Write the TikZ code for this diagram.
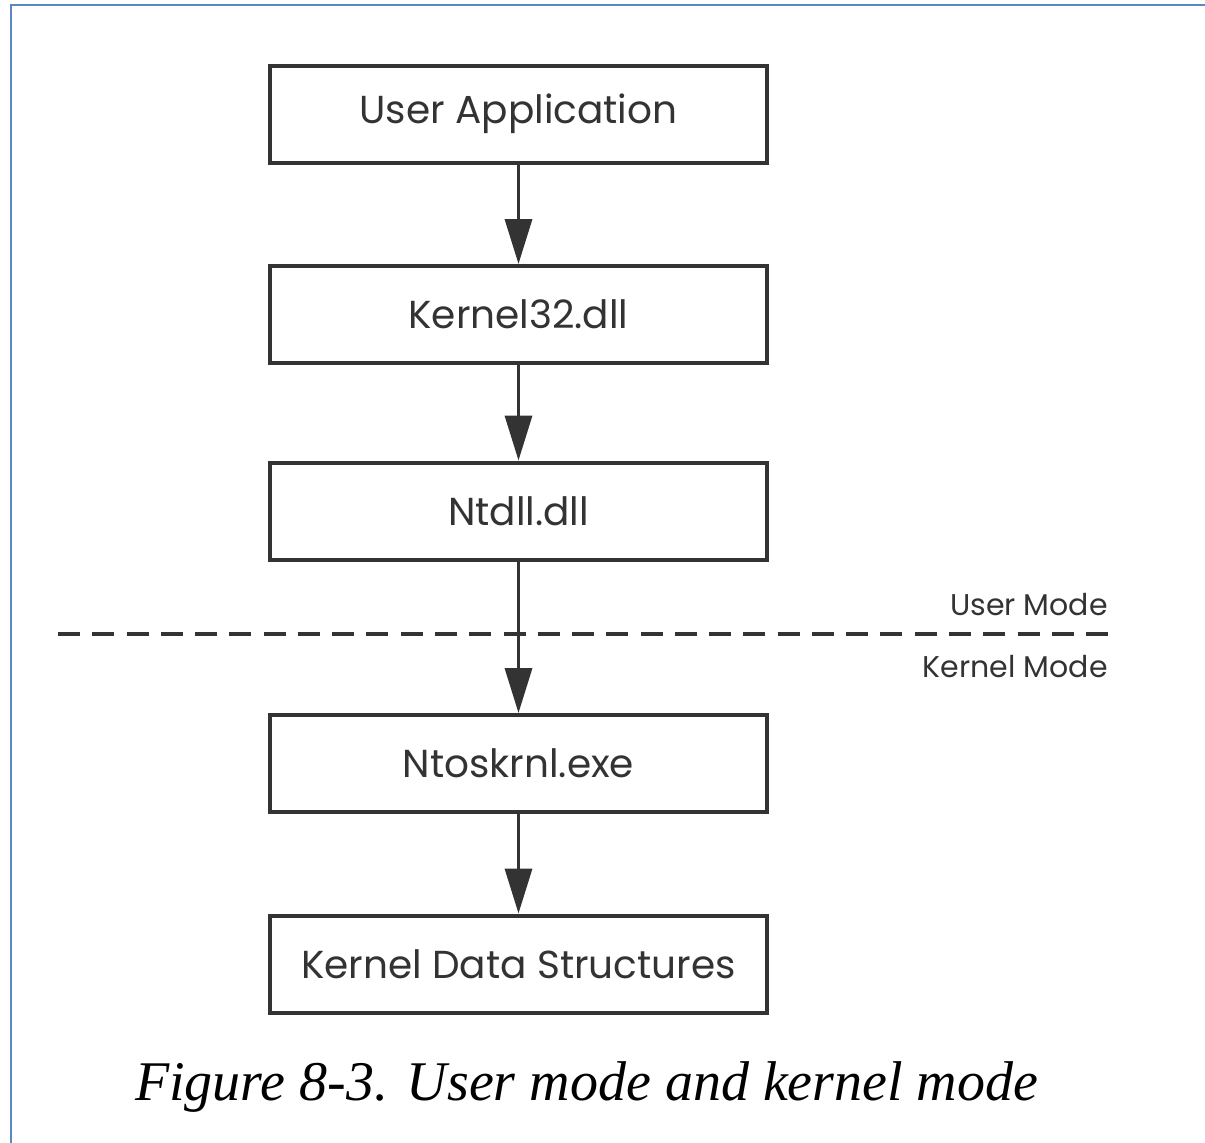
\documentclass[tikz,border=0pt]{standalone}
\usepackage{fontspec}
\setmainfont{Poppins}
\newfontfamily\capfont{Liberation Serif}
\usetikzlibrary{arrows.meta}
\definecolor{ink}{HTML}{333333}
\definecolor{frame}{HTML}{5B87C5}
\tikzset{
  blk/.style={draw=ink, line width=4pt, minimum width=497pt, minimum height=97pt, inner sep=0pt,
    font=\fontsize{39}{44}\selectfont, text=ink},
  flow/.style={draw=ink, line width=3.5pt, -{Triangle[width=27pt,length=45pt]}, shorten >=0pt},
  modelbl/.style={font=\fontsize{30}{34}\selectfont, text=ink, anchor=base east, inner sep=0pt}
}
\begin{document}
\begin{tikzpicture}[x=1pt,y=-1pt]
\useasboundingbox (0,0) rectangle (1205,1143);
\fill[white] (0,0) rectangle (1205,1143);
\draw[frame, line width=2.5pt] (11,1143) -- (11,5) -- (1205,5);
\node[blk] (ua) at (518.5,114) {User Application};
\node[blk] (k32) at (518.5,314.5) {Kernel32.dll};
\node[blk] (nt) at (518.5,511) {Ntdll.dll};
\node[blk] (nk) at (518.5,763.5) {Ntoskrnl.exe};
\node[blk] (kds) at (518.5,964) {Kernel Data Structures};
\coordinate (dl) at (58,634);
\coordinate (dr) at (1108,634);
\draw[ink, line width=4pt, dash pattern=on 22pt off 12.27pt] (dl) -- (dr);
\node[modelbl] (um) at (1108,615) {User Mode};
\node[modelbl] (km) at (1108,677) {Kernel Mode};
\draw[flow] (ua.south) -- (k32.north);
\draw[flow] (k32.south) -- (nt.north);
\draw[flow] (nt.south) -- (nk.north);
\draw[flow] (nk.south) -- (kds.north);
\node[anchor=base west, inner sep=0pt, font=\capfont\itshape\fontsize{56}{62}\selectfont] (cap) at (135,1100) {Figure 8-3. User mode and kernel mode};
\end{tikzpicture}
\end{document}
